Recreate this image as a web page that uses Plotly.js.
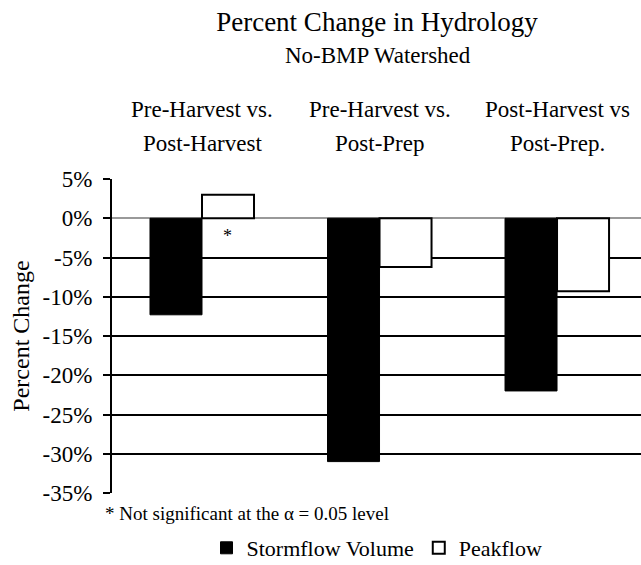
<!DOCTYPE html>
<html>
<head>
<meta charset="utf-8">
<script src="https://cdn.plot.ly/plotly-3.0.1.min.js"></script>
<style>html,body{margin:0;padding:0;background:#fff;}#chart{width:641px;height:565px;}</style>
</head>
<body>
<div id="chart"></div>
<script>
const categories = ["Pre-Harvest vs.<br>Post-Harvest", "Pre-Harvest vs.<br>Post-Prep", "Post-Harvest vs<br>Post-Prep."];
const stormflowVolume = [-12.3, -31, -22];
const peakflow = [3, -6.2, -9.3];
const yTicks = [5, 0, -5, -10, -15, -20, -25, -30, -35];
const xIdx = categories.map((c, i) => i);

const FONT = "'Times New Roman', 'Liberation Serif', serif";
const L = 112, T = 179, B = 72, W = 641, H = 565;
const PH = H - T - B, PW = W - L;

const traces = [
  {type: "bar", name: "Stormflow Volume", x: xIdx, y: stormflowVolume,
   marker: {color: "#000", line: {color: "#000", width: 1}}},
  {type: "bar", name: "Peakflow", x: xIdx, y: peakflow,
   marker: {color: "#fff", line: {color: "#000", width: 2}}}
];

const annotations = [];
categories.forEach((c, i) => {
  c.split("<br>").forEach((line, j) => {
    annotations.push({
      x: i, y: 1 + (T - (j === 0 ? 110 : 143)) / PH, xref: "x", yref: "paper", yanchor: "middle",
      text: line, showarrow: false, font: {family: FONT, size: 23, color: "#000"}
    });
  });
});
annotations.push({xref: "paper", yref: "paper", x: (378 - L) / PW, y: 1 + (T - 55) / PH,
  yanchor: "middle", text: "No-BMP Watershed", showarrow: false,
  font: {family: FONT, size: 23, color: "#000"}});
annotations.push({x: 0.143, y: -1.8, xref: "x", yref: "y", yanchor: "middle", yshift: -4,
  text: "*", showarrow: false, font: {family: FONT, size: 18, color: "#000"}});
annotations.push({xref: "paper", yref: "paper", x: (103 - L) / PW, y: -(513 - (H - B)) / PH,
  xanchor: "left", yanchor: "middle",
  text: "* Not significant at the \u03b1 = 0.05 level", showarrow: false,
  font: {family: FONT, size: 19, color: "#000"}});

const layout = {
  width: W, height: H,
  margin: {l: L, r: 0, t: T, b: B},
  paper_bgcolor: "#fff", plot_bgcolor: "#fff",
  font: {family: FONT, color: "#000"},
  title: {text: "Percent Change in Hydrology", xref: "container", yref: "container",
    x: 377 / W, y: 1 - 22 / H, xanchor: "center", yanchor: "middle",
    font: {family: FONT, size: 27, color: "#000"}},
  barmode: "group", bargap: 0.414, bargroupgap: 0,
  showlegend: true,
  legend: {orientation: "h", x: 377 / W, xref: "container", xanchor: "center",
    y: 1 - 548 / H, yref: "container", yanchor: "middle",
    font: {family: FONT, size: 22, color: "#000"}, traceorder: "normal",
    itemwidth: 30, tracegroupgap: 0},
  xaxis: {range: [-0.507, 2.473], showticklabels: false, ticks: "", showgrid: false,
    zeroline: false, showline: false, fixedrange: true},
  xaxis2: {range: [-0.507, 2.473], overlaying: "x", anchor: "free", position: 35 / 40,
    side: "bottom", tickvals: [0.5, 1.5], ticks: "outside", ticklen: 8, tickwidth: 2,
    tickcolor: "#999", showticklabels: false, showgrid: false, zeroline: false, showline: false},
  yaxis: {range: [-35, 5], tickvals: yTicks, ticktext: yTicks.map(v => v + "%"),
    showgrid: true, gridcolor: "#000", gridwidth: 2,
    zeroline: true, zerolinecolor: "#999", zerolinewidth: 2,
    showline: true, linecolor: "#000", linewidth: 2,
    ticks: "outside", ticklen: 7, tickwidth: 2, tickcolor: "#000",
    ticklabelstandoff: 6,
    tickfont: {family: FONT, size: 23, color: "#000"},
    title: {text: "Percent Change", font: {family: FONT, size: 24, color: "#000"}, standoff: 6}},
  annotations: annotations
};

Plotly.newPlot("chart", traces, layout, {staticPlot: true, displayModeBar: false});
</script>
</body>
</html>
